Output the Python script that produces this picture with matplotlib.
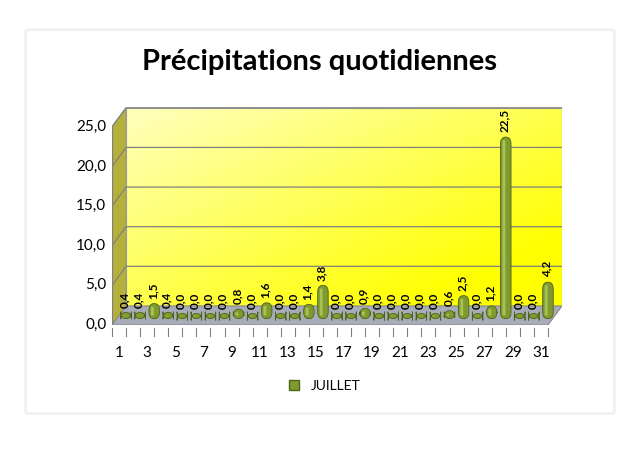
import numpy as np
import matplotlib
matplotlib.use("Agg")
import matplotlib.pyplot as plt
from matplotlib.patches import Polygon, FancyBboxPatch
from matplotlib.lines import Line2D

days = list(range(1, 32))
rain = [0.4, 0.4, 1.5, 0.4, 0.0, 0.0, 0.0, 0.0, 0.8, 0.0, 1.6, 0.0, 0.0, 1.4, 3.8, 0.0,
        0.0, 0.9, 0.0, 0.0, 0.0, 0.0, 0.0, 0.6, 2.5, 0.0, 1.2, 22.5, 0.0, 0.0, 4.2]
yticks = [0, 5, 10, 15, 20, 25]
title = "Précipitations quotidiennes"
series_name = "JUILLET"

plt.rcParams["font.family"] = ["Lato", "DejaVu Sans"]

fig = plt.figure(figsize=(6.4, 4.57), dpi=100)
# soft frame (behind the axes)
frame = FancyBboxPatch((0.045, 0.1), 0.91, 0.83, boxstyle="round,pad=0.005",
                       transform=fig.transFigure, fc="white", ec="#f0f0f0", lw=2, zorder=-10)
fig.patches.append(frame)

ax = fig.add_axes([112 / 640, 1 - 325 / 457, 450 / 640, 218 / 457])
ax.set_xlim(0.5, 31.5 + 1.0)
ax.set_ylim(0, 27.5)
ax.axis("off")

dx, dy = 1.0, 2.4
x0, x1 = 0.5, 31.5

# back wall with gradient
wall = Polygon([(x0 + dx, dy), (x1 + dx, dy), (x1 + dx, 25 + dy), (x0 + dx, 25 + dy)],
               closed=True, fc="none", ec="#999999", lw=0.8, zorder=1)
ax.add_patch(wall)
gx, gy = np.meshgrid(np.linspace(0, 1, 200), np.linspace(0, 1, 200))
t = np.clip(0.6 * gx + 0.6 * gy, 0, 1)
top = np.array([1.0, 1.0, 0.75])
bot = np.array([1.0, 1.0, 0.0])
img = top[None, None, :] * (1 - t[..., None]) + bot[None, None, :] * t[..., None]
im = ax.imshow(img, extent=(x0 + dx, x1 + dx, dy, 25 + dy), origin="upper", aspect="auto", zorder=0)
im.set_clip_path(wall)

# left wall
ax.add_patch(Polygon([(x0, 0), (x0 + dx, dy), (x0 + dx, 25 + dy), (x0, 25)],
                     closed=True, fc="#b5b03a", ec="#999999", lw=0.8, zorder=1))
# floor
ax.add_patch(Polygon([(x0, 0), (x1, 0), (x1 + dx, dy), (x0 + dx, dy)],
                     closed=True, fc="#a8acb8", ec="#888888", lw=0.8, zorder=2))
ax.add_patch(Polygon([(x0, 0), (x1, 0), (x1, -0.4), (x0, -0.4)],
                     closed=True, fc="#d0d2d8", ec="none", zorder=2))

# gridlines
for v in yticks[1:]:
    ax.plot([x0, x0 + dx, x1 + dx], [v, v + dy, v + dy], color="#808080", lw=0.9, zorder=1.5)
    ax.text(x0 - 0.4, v, f"{v:.1f}".replace(".", ","), ha="right", va="center", fontsize=11)
ax.text(x0 - 0.4, 0, "0,0", ha="right", va="center", fontsize=11)
ax.plot([x0, x0], [0, 25], color="#808080", lw=0.9, zorder=3)

# x ticks
for d in days:
    ax.plot([d - 0.5, d - 0.5], [-0.4, -1.4], color="#808080", lw=0.8, clip_on=False)
    if d % 2 == 1:
        ax.text(d, -2.6, str(d), ha="center", va="top", fontsize=11)
ax.plot([x1, x1], [-0.4, -1.4], color="#808080", lw=0.8, clip_on=False)
ax.plot([x0, x1], [-0.4, -0.4], color="#808080", lw=0.8)

# bars (cylinders)
bx = np.array(days) + 0.5 * dx
base = 0.5 * dy
w = 0.75
for xi, v in zip(bx, rain):
    h = max(v, 0.25)
    ax.add_patch(FancyBboxPatch((xi - w / 2, base - 0.4), w, h + 0.4,
                                boxstyle="round,pad=0,rounding_size=0.35",
                                mutation_aspect=2.5, fc="#7f9a2e", ec="#4f6318", lw=0.6, zorder=4))
    ax.add_patch(FancyBboxPatch((xi - w / 2 + 0.15, base), 0.2, max(h - 0.4, 0.05),
                                boxstyle="round,pad=0", fc="#a9c255", ec="none", zorder=4.5))
    ax.text(xi - 0.1, base + h + 0.6, f"{v:.1f}".replace(".", ","), rotation=90,
            ha="center", va="bottom", fontsize=8.5, fontweight="bold", zorder=5)

fig.text(0.5, 0.865, title, ha="center", va="center", fontsize=21, fontweight="bold")

handle = Line2D([], [], marker="s", color="none", markerfacecolor="#7f9a2e",
                markeredgecolor="#4f6318", markersize=7)
fig.legend([handle], [series_name], loc="center", bbox_to_anchor=(0.5, 0.155),
           frameon=False, fontsize=10, handletextpad=0.2)

fig.savefig("out.png", dpi=100)
